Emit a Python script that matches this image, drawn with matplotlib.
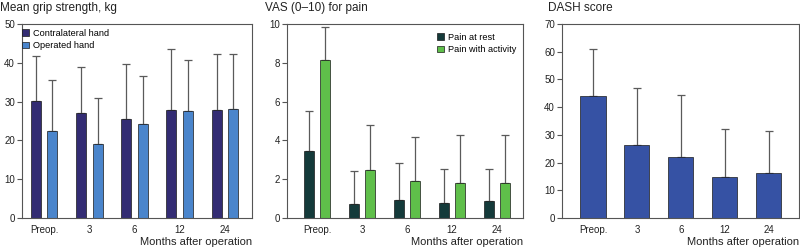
import matplotlib
matplotlib.use("Agg")
import matplotlib.pyplot as plt
from matplotlib.patches import Patch
import numpy as np

plt.rcParams['font.family'] = ['Liberation Sans', 'DejaVu Sans']

categories = ["Preop.", "3", "6", "12", "24"]

# Panel 1: grip strength (kg)
grip_contra = [30.1, 27.1, 25.6, 27.9, 27.9]
grip_contra_sd = [11.7, 11.9, 14.1, 15.6, 14.4]
grip_oper = [22.4, 19.0, 24.1, 27.7, 28.2]
grip_oper_sd = [13.2, 11.8, 12.5, 13.0, 14.1]

# Panel 2: VAS pain
pain_rest = [3.45, 0.73, 0.93, 0.77, 0.87]
pain_rest_sd = [2.07, 1.67, 1.92, 1.75, 1.68]
pain_act = [8.15, 2.45, 1.90, 1.78, 1.78]
pain_act_sd = [1.70, 2.32, 2.30, 2.50, 2.50]

# Panel 3: DASH
dash = [44.1, 26.2, 22.0, 14.8, 16.2]
dash_sd = [16.7, 20.8, 22.3, 17.4, 15.3]

C_CONTRA = "#332c73"
C_OPER = "#4a85cc"
C_REST = "#143a3a"
C_ACT = "#5fbf4a"
C_DASH = "#3652a4"
SPINE = "#555555"
ERR = "#5a5a5a"
TXT = "#222222"

W, H = 800, 249
fig = plt.figure(figsize=(W / 100, H / 100), dpi=100)

def box(l, r, t=24, b=218):
    return [l / W, 1 - b / H, (r - l) / W, (b - t) / H]

def style(ax, ymax, step, xlim):
    ax.set_ylim(0, ymax)
    ax.set_yticks(np.arange(0, ymax + 0.001, step))
    ax.set_xlim(*xlim)
    ax.set_xticks(np.arange(len(categories)))
    ax.set_xticklabels(categories)
    for s in ax.spines.values():
        s.set_color(SPINE)
        s.set_linewidth(0.8)
    ax.tick_params(axis='y', length=3.5, width=0.8, color=SPINE, labelsize=7, pad=1.5, labelcolor=TXT)
    ax.tick_params(axis='x', length=0, labelsize=7, pad=5, labelcolor=TXT)

def bars(ax, x, vals, sd, color, width):
    ax.errorbar(x, vals, yerr=[np.zeros(len(vals)), sd], fmt='none', ecolor=ERR,
                elinewidth=0.9, capsize=2.8, capthick=0.9, zorder=1)
    ax.bar(x, vals, width=width, color=color, edgecolor="#1a1a1a", linewidth=0.5, zorder=2)

x = np.arange(len(categories))

# Panel 1
ax1 = fig.add_axes(box(22, 252))
bars(ax1, x - 0.184, grip_contra, grip_contra_sd, C_CONTRA, 0.22)
bars(ax1, x + 0.184, grip_oper, grip_oper_sd, C_OPER, 0.22)
style(ax1, 50, 10, (-0.487, 4.6))
ax1.legend(handles=[Patch(facecolor=C_CONTRA, edgecolor="#1a1a1a", linewidth=0.5, label="Contralateral hand"),
                    Patch(facecolor=C_OPER, edgecolor="#1a1a1a", linewidth=0.5, label="Operated hand")],
           loc="upper left", bbox_to_anchor=(0.002, 0.975), frameon=False, fontsize=6.6,
           handlelength=0.7, handleheight=0.7, handletextpad=0.45, labelspacing=0.35,
           borderpad=0, borderaxespad=0)

# Panel 2
ax2 = fig.add_axes(box(287, 523))
bars(ax2, x - 0.18, pain_rest, pain_rest_sd, C_REST, 0.233)
bars(ax2, x + 0.18, pain_act, pain_act_sd, C_ACT, 0.233)
style(ax2, 10, 2, (-0.667, 4.578))
ax2.legend(handles=[Patch(facecolor=C_REST, edgecolor="#1a1a1a", linewidth=0.5, label="Pain at rest"),
                    Patch(facecolor=C_ACT, edgecolor="#1a1a1a", linewidth=0.5, label="Pain with activity")],
           loc="upper left", bbox_to_anchor=(0.636, 0.955), frameon=False, fontsize=6.6,
           handlelength=0.7, handleheight=0.7, handletextpad=0.45, labelspacing=0.35,
           borderpad=0, borderaxespad=0)

# Panel 3
ax3 = fig.add_axes(box(562, 799))
bars(ax3, x, dash, dash_sd, C_DASH, 0.57)
style(ax3, 70, 10, (-0.706, 4.69))

# Titles and x labels
fig.text(0 / W, 1 - 2 / H, "Mean grip strength, kg", ha="left", va="top", fontsize=8.5, color=TXT)
fig.text(265 / W, 1 - 2 / H, "VAS (0\u201310) for pain", ha="left", va="top", fontsize=8.5, color=TXT)
fig.text(548 / W, 1 - 2 / H, "DASH score", ha="left", va="top", fontsize=8.5, color=TXT)
for r in (252, 523, 799):
    fig.text(r / W, 1 - 242 / H, "Months after operation", ha="right", va="center", fontsize=8, color=TXT)

fig.savefig("out.png", dpi=100)
